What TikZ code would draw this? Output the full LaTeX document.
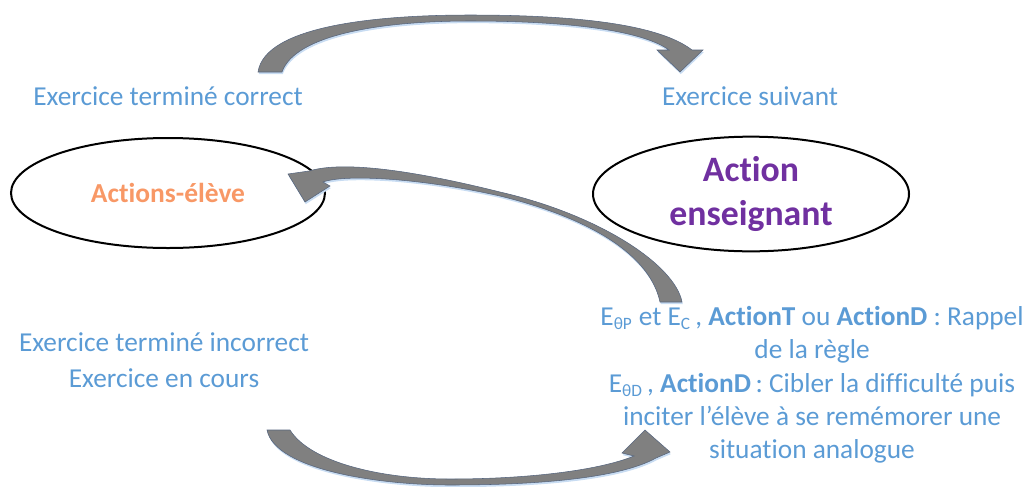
\documentclass[tikz,border=0pt]{standalone}
\usepackage{fontspec}
\setmainfont{Carlito}[Ligatures=NoCommon]
\usetikzlibrary{shapes.geometric}
\definecolor{txtblue}{RGB}{91,155,213}
\definecolor{eleve}{RGB}{248,152,102}
\definecolor{ens}{RGB}{112,48,160}
\definecolor{flechebord}{RGB}{85,100,125}
\definecolor{ombre}{RGB}{200,220,242}
\tikzset{
		etat/.style={
			ellipse, draw=black, line width=1.5pt, inner sep=0pt, align=center},
		info/.style={
			text=txtblue, font=\fontsize{20.5}{25}\selectfont, align=center},
		fleche/.style={
			fill=gray, draw=flechebord, line width=0.4pt,
			preaction={fill=ombre, transform canvas={shift={(0.6pt,-1.6pt)}}}},
	}
\def\sub#1{\textsubscript{\fontsize{13}{13}\selectfont#1}}

\begin{document}
\begin{tikzpicture}[x=0.75pt, y=-0.75pt]
			\useasboundingbox (0,0) rectangle (1030,486);
			\node[etat, minimum width=235.5pt, minimum height=82.5pt,
				text=eleve, font=\fontsize{20.6}{25}\selectfont\bfseries] (eleve) at (168,193) {Actions-élève};
			\node[etat, minimum width=237pt, minimum height=86pt,
				text=ens, font=\fontsize{26.8}{33}\selectfont\bfseries] (ens) at (751,194) {Action\\enseignant};
			\node[info] (correct) at (168,96) {Exercice terminé correct};
			\node[info] (suivant) at (750,96) {Exercice suivant};
			\node[info, font=\fontsize{20.5}{27}\selectfont] (incorrect) at (164,360) {Exercice terminé incorrect\\Exercice en cours};
			\node[info] (regle) at (812,385) {E\sub{θP} et E\sub{C}\,, \textbf{ActionT} ou \textbf{ActionD}~: Rappel\\
				de la règle\\
				E\sub{θD}\,, \textbf{ActionD}\,: Cibler la difficulté puis\\
				inciter l’élève à se remémorer une\\
				situation analogue};
			\draw[fleche] (258,72) .. controls (265,25) and (380,15) .. (470,15)
				.. controls (580,15) and (660,25) .. (692,50)
				-- (703,50) -- (680,72) -- (657,50) -- (669,50)
				.. controls (640,29) and (560,21) .. (470,21)
				.. controls (380,21) and (295,35) .. (282,72) -- cycle;
			\draw[fleche] (682,302) .. controls (675,265) and (600,215) .. (500,192)
				.. controls (420,172) and (345,160) .. (309,171)
				-- (288,174) -- (305,202) -- (330,186) -- (323,182)
				.. controls (345,174) and (420,178) .. (500,196)
				.. controls (590,218) and (650,255) .. (660,302) -- cycle;
			\draw[fleche] (267,430) .. controls (275,470) and (380,485) .. (450,485)
				.. controls (540,485) and (620,478) .. (656,458)
				-- (670,452) -- (645,430) -- (622,453) -- (634,456)
				.. controls (600,470) and (530,479) .. (450,479)
				.. controls (380,479) and (310,462) .. (290,430) -- cycle;
			\end{tikzpicture}
\end{document}
